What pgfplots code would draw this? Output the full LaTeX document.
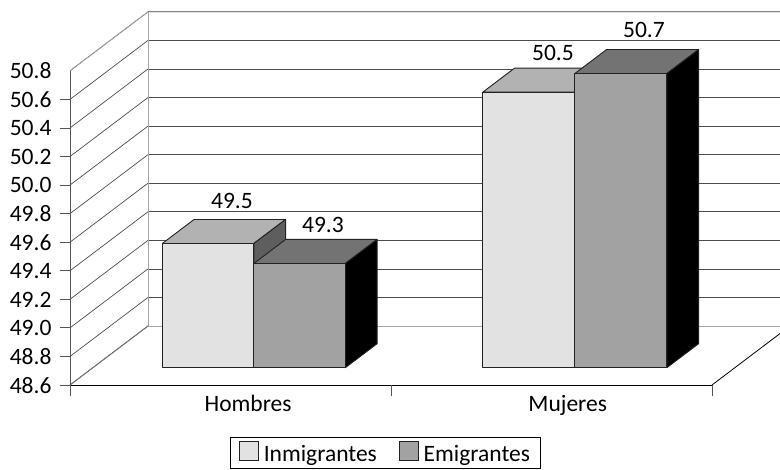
\documentclass[border=0pt]{standalone}
\usepackage{pgfplots}
\pgfplotsset{compat=1.18}
\usepackage{fontspec}
\setmainfont{Carlito}
\usetikzlibrary{calc}

\definecolor{frontA}{HTML}{E2E2E2}
\definecolor{topA}{HTML}{B2B2B2}
\definecolor{sideA}{HTML}{5E5E5E}
\definecolor{frontB}{HTML}{A2A2A2}
\definecolor{topB}{HTML}{737373}
\definecolor{wallgray}{HTML}{A6A6A6}
\definecolor{edge}{HTML}{222222}
\definecolor{axisgray}{HTML}{555555}

% one 3D bar: x from, x to, value, front, top and side colours
\newcommand{\threedbar}[6]{
  \addplot3[forget plot, fill=#5, draw=edge, line width=0.9pt, line join=round] coordinates {(#1,0.293,#3)(#2,0.293,#3)(#2,0.7,#3)(#1,0.7,#3)} -- cycle;
  \addplot3[forget plot, fill=#6, draw=edge, line width=0.9pt, line join=round] coordinates {(#2,0.293,48.6)(#2,0.7,48.6)(#2,0.7,#3)(#2,0.293,#3)} -- cycle;
  \addplot3[forget plot, fill=#4, draw=edge, line width=0.9pt, line join=round] coordinates {(#1,0.293,48.6)(#2,0.293,48.6)(#2,0.293,#3)(#1,0.293,#3)} -- cycle;
}

\begin{document}
\begin{tikzpicture}[font=\fontsize{23.5pt}{26pt}\selectfont]
\begin{axis}[
    x={(1pt,0pt)}, y={(78pt,59pt)}, z={(0pt,142.8pt)},
    xmin=70, xmax=712, ymin=0, ymax=1, zmin=48.6, zmax=50.8,
    clip=false,
    axis x line*=bottom, axis y line*=left, axis z line*=left,
    axis line style={draw=black, line width=0.8pt, -},
    major tick length=0pt,
    xtick={230.5,551}, xticklabels={Hombres,Mujeres},
    xtick style={draw=none},
    xticklabel style={xshift=23.5pt, yshift=-7pt},
    ytick=\empty,
    ztick={48.6,48.8,49.0,49.2,49.4,49.6,49.8,50.0,50.2,50.4,50.6,50.8},
    zticklabel style={xshift=-15pt, yshift=8pt, /pgf/number format/fixed, /pgf/number format/fixed zerofill, /pgf/number format/precision=1, /pgf/number format/assume math mode=true},
    ztick style={draw=none},
    zmajorgrids,
    grid style={draw=black!70, line width=0.7pt},
    legend image code/.code={\draw[#1, line width=0.8pt] (0pt,-7pt) rectangle (19pt,12pt);},
    legend style={at={(axis cs:385.5,0,48.6)}, anchor=north, yshift=-52pt, draw=black, line width=0.7pt, legend columns=2, inner xsep=8.5pt, inner ysep=4pt, /tikz/column 1/.style={column sep=3pt}, /tikz/column 2/.style={column sep=20pt}, /tikz/column 3/.style={column sep=3pt}},
]
\coordinate (a) at (axis cs:70,0,48.6);
% walls
\addplot3[forget plot, wallgray, line width=0.9pt] coordinates {(70,0,50.8)(70,1,50.8)(712,1,50.8)};
\addplot3[forget plot, wallgray, line width=0.9pt] coordinates {(712,1,48.6)(70,1,48.6)(70,1,50.8)};
\addplot3[forget plot, wallgray!70!black, line width=0.9pt] coordinates {(70,1,48.6)(70,0,48.6)};
\addplot3[forget plot, axisgray, line width=0.9pt] coordinates {(70,0,50.8)(70,0,48.6)};
% tick marks
\pgfplotsinvokeforeach{48.6,48.8,49.0,49.2,49.4,49.6,49.8,50.0,50.2,50.4,50.6}{
  \draw[axisgray, line width=0.8pt] (axis cs:70,0,#1) -- ++(-10pt,0pt);
}
\pgfplotsinvokeforeach{70,391,712}{
  \draw[axisgray, line width=0.8pt] (axis cs:#1,0,48.6) -- ++(0pt,-11pt);
}
\addlegendimage{fill=frontA, draw=edge}
\addlegendentry{Inmigrantes}
\addlegendimage{fill=frontB, draw=edge}
\addlegendentry{Emigrantes}
\threedbar{139.5}{231}{49.47}{frontA}{topA}{sideA}
\threedbar{231}{322.5}{49.33}{frontB}{topB}{black}
\threedbar{460}{552}{50.53}{frontA}{topA}{sideA}
\threedbar{552}{644}{50.66}{frontB}{topB}{black}
\node[yshift=18pt] at (axis cs:177.4,0.7,49.47) {49.5};
\node[yshift=14pt] at (axis cs:268.4,0.7,49.33) {49.3};
\node[yshift=15pt] at (axis cs:498.4,0.7,50.53) {50.5};
\node[yshift=20pt] at (axis cs:589.4,0.7,50.66) {50.7};
\end{axis}
\pgfresetboundingbox
\path[use as bounding box] ($(a)+(-70pt,-85pt)$) rectangle ($(a)+(710pt,385pt)$);
\end{tikzpicture}
\end{document}
